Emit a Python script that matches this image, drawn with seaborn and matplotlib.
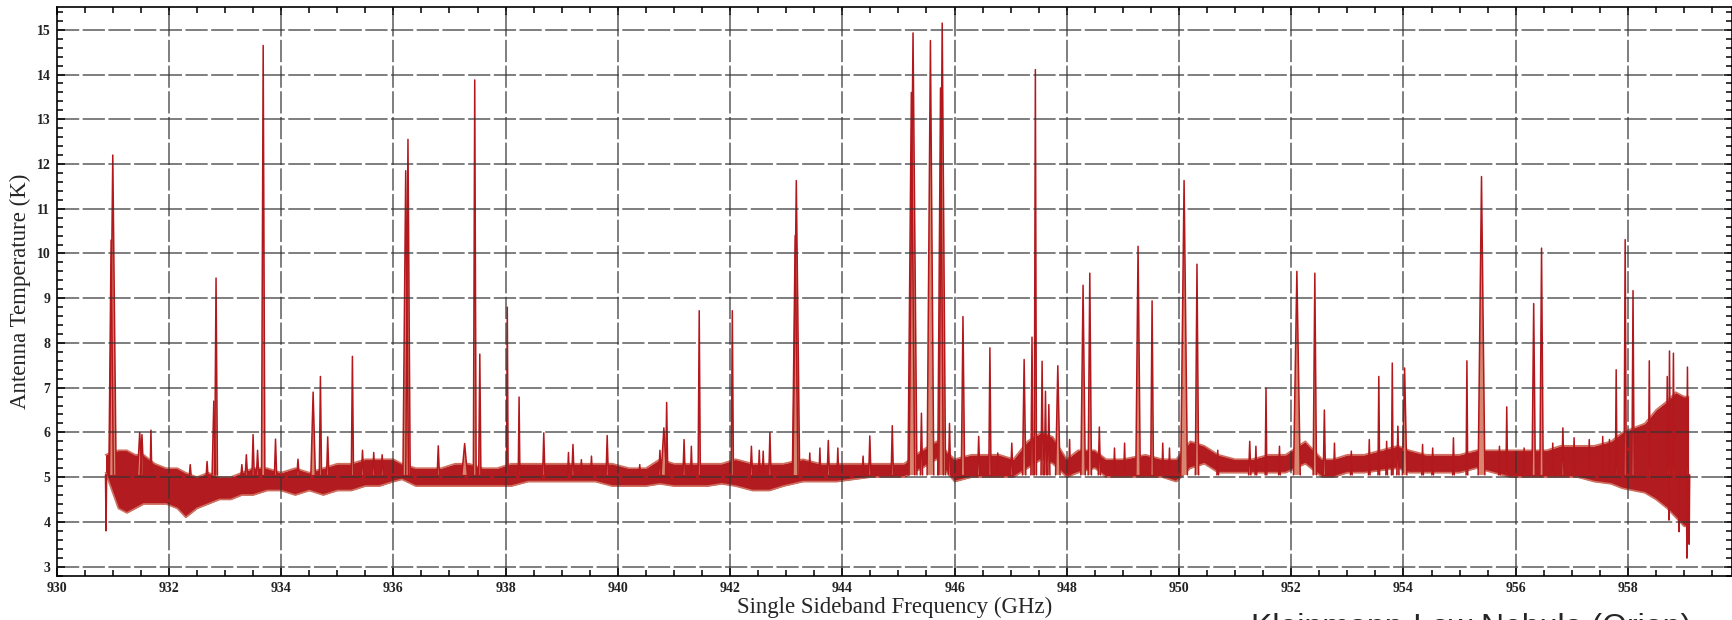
import numpy as np
import pandas as pd
import matplotlib
matplotlib.use("Agg")
import matplotlib.pyplot as plt
from matplotlib.ticker import MultipleLocator
import seaborn as sns

# Baseline noise band of the spectrum (lower / upper envelope, K)
band_freq = [930.87, 931.10, 931.25, 931.40, 931.55, 931.75, 931.95, 932.15, 932.30, 932.50,
             932.70, 932.90, 933.10, 933.30, 933.50, 933.75, 934.00, 934.25, 934.50, 934.75,
             935.00, 935.25, 935.50, 935.75, 936.00, 936.15, 936.40, 936.60, 936.85, 937.10,
             937.35, 937.60, 937.85, 938.10, 938.40, 938.70, 939.00, 939.30, 939.60, 939.90,
             940.20, 940.50, 940.75, 941.00, 941.30, 941.60, 941.85, 942.10, 942.40, 942.70,
             942.95, 943.30, 943.60, 943.90, 944.20, 944.50, 944.80, 945.10, 945.42, 945.68,
             946.00, 946.30, 946.55, 946.80, 947.05, 947.30, 947.55, 947.75, 948.00, 948.20,
             948.50, 948.70, 949.00, 949.40, 949.70, 949.95, 950.20, 950.45, 950.70, 951.00,
             951.30, 951.60, 951.90, 952.25, 952.55, 952.75, 953.00, 953.30, 953.60, 953.90,
             954.10, 954.40, 954.70, 955.00, 955.30, 955.60, 955.90, 956.20, 956.55, 956.80,
             957.10, 957.40, 957.70, 957.90, 958.10, 958.30, 958.50, 958.70, 958.85, 959.00,
             959.08]
band_low = [5.10, 4.30, 4.20, 4.30, 4.40, 4.40, 4.40, 4.30, 4.10, 4.30,
            4.40, 4.50, 4.50, 4.60, 4.60, 4.70, 4.70, 4.60, 4.70, 4.60,
            4.70, 4.70, 4.80, 4.80, 4.90, 4.95, 4.80, 4.80, 4.80, 4.80,
            4.80, 4.80, 4.80, 4.80, 4.90, 4.90, 4.90, 4.90, 4.90, 4.80,
            4.80, 4.80, 4.85, 4.80, 4.80, 4.80, 4.85, 4.80, 4.70, 4.70,
            4.80, 4.90, 4.90, 4.90, 4.95, 5.00, 5.00, 5.00, 5.20, 5.40,
            4.90, 5.00, 5.00, 5.00, 5.00, 5.20, 5.40, 5.30, 5.00, 5.10,
            5.20, 5.00, 5.00, 5.00, 5.00, 4.90, 5.20, 5.30, 5.10, 5.10,
            5.10, 5.10, 5.10, 5.30, 5.00, 5.00, 5.10, 5.10, 5.15, 5.20,
            5.10, 5.10, 5.10, 5.10, 5.20, 5.10, 5.00, 5.00, 5.00, 5.00,
            5.00, 4.90, 4.85, 4.75, 4.70, 4.65, 4.50, 4.30, 4.10, 3.90,
            3.90]
band_high = [5.50, 5.60, 5.60, 5.50, 5.50, 5.30, 5.20, 5.20, 5.10, 5.00,
             5.10, 5.00, 5.00, 5.10, 5.20, 5.20, 5.10, 5.20, 5.10, 5.20,
             5.30, 5.30, 5.40, 5.40, 5.40, 5.30, 5.20, 5.20, 5.20, 5.30,
             5.30, 5.20, 5.20, 5.30, 5.30, 5.30, 5.30, 5.30, 5.30, 5.30,
             5.20, 5.20, 5.40, 5.30, 5.30, 5.30, 5.30, 5.40, 5.30, 5.30,
             5.30, 5.40, 5.30, 5.30, 5.30, 5.30, 5.30, 5.30, 5.60, 5.80,
             5.40, 5.50, 5.50, 5.50, 5.40, 5.80, 6.00, 5.90, 5.40, 5.60,
             5.60, 5.40, 5.40, 5.50, 5.40, 5.40, 5.80, 5.70, 5.50, 5.40,
             5.40, 5.50, 5.50, 5.80, 5.40, 5.40, 5.50, 5.50, 5.60, 5.70,
             5.60, 5.50, 5.50, 5.50, 5.60, 5.60, 5.60, 5.60, 5.60, 5.70,
             5.70, 5.70, 5.80, 6.00, 6.10, 6.20, 6.50, 6.70, 6.90, 6.80,
             6.80]

# Emission lines (and a few dips): centre, peak, half width at foot
peak_freq = [930.88, 930.97, 931.00, 931.48, 931.52, 931.68, 932.38, 932.68, 932.80, 932.84,
             933.30, 933.38, 933.50, 933.58, 933.68, 933.90, 934.30, 934.57, 934.70, 934.83,
             935.27, 935.45, 935.65, 935.80, 936.22, 936.26, 936.80, 937.27, 937.45, 937.54,
             938.03, 938.24, 938.68, 939.12, 939.20, 939.35, 939.53, 939.81, 940.39, 940.75,
             940.82, 940.87, 941.18, 941.31, 941.45, 942.04, 942.38, 942.52, 942.59, 942.71,
             943.16, 943.18, 943.42, 943.60, 943.75, 943.92, 944.37, 944.49, 944.89, 945.23,
             945.26, 945.41, 945.57, 945.75, 945.78, 945.91, 946.15, 946.43, 946.63, 946.77,
             947.02, 947.24, 947.38, 947.44, 947.56, 947.62, 947.68, 947.84, 948.05, 948.29,
             948.41, 948.58, 948.85, 949.03, 949.27, 949.52, 949.71, 949.83, 950.09, 950.32,
             950.69, 951.26, 951.37, 951.55, 951.79, 952.10, 952.42, 952.59, 952.77, 953.07,
             953.39, 953.56, 953.70, 953.80, 953.90, 954.02, 954.34, 954.52, 954.89, 955.13,
             955.39, 955.71, 955.84, 956.15, 956.32, 956.46, 956.66, 956.84, 957.04, 957.31,
             957.55, 957.67, 957.79, 957.95, 958.09, 958.38, 958.70, 958.74, 958.81, 959.06,
             958.73, 958.91, 959.05, 959.09]
peak_temp = [3.80, 10.30, 12.20, 6.00, 5.95, 6.05, 5.28, 5.35, 6.70, 9.45,
             5.28, 5.50, 5.95, 5.60, 14.65, 5.85, 5.40, 6.90, 7.25, 5.90,
             7.70, 5.60, 5.55, 5.50, 11.85, 12.55, 5.70, 5.75, 13.88, 7.75,
             8.80, 6.79, 5.99, 5.55, 5.73, 5.39, 5.47, 5.93, 5.28, 5.60,
             6.10, 6.67, 5.84, 5.69, 8.72, 8.72, 5.69, 5.60, 5.58, 6.00,
             10.40, 11.63, 5.54, 5.65, 5.82, 5.65, 5.47, 5.92, 6.15, 13.60,
             14.93, 6.43, 14.76, 13.70, 15.15, 6.20, 8.59, 5.91, 7.89, 5.54,
             5.76, 7.63, 8.13, 14.11, 7.59, 6.92, 6.62, 7.49, 5.84, 9.29,
             9.56, 6.12, 5.65, 5.76, 10.16, 8.94, 5.76, 5.65, 11.63, 9.76,
             5.60, 5.80, 5.69, 6.99, 5.69, 9.60, 9.56, 6.50, 5.76, 5.58,
             5.84, 7.25, 5.80, 7.55, 6.14, 7.44, 5.73, 5.65, 5.88, 7.60,
             11.72, 5.69, 6.57, 5.65, 8.88, 10.12, 5.76, 6.10, 5.88, 5.84,
             5.91, 5.84, 7.40, 10.31, 9.17, 7.60, 7.25, 7.82, 7.77, 7.46,
             4.04, 3.78, 3.19, 3.50]
peak_halfwidth = [0.010, 0.040, 0.060, 0.040, 0.030, 0.015, 0.015, 0.015, 0.030, 0.025,
                  0.015, 0.020, 0.020, 0.020, 0.030, 0.020, 0.020, 0.040, 0.020, 0.020,
                  0.020, 0.020, 0.020, 0.020, 0.050, 0.040, 0.020, 0.050, 0.025, 0.020,
                  0.015, 0.015, 0.020, 0.015, 0.020, 0.015, 0.015, 0.020, 0.015, 0.020,
                  0.050, 0.020, 0.020, 0.015, 0.020, 0.020, 0.020, 0.015, 0.015, 0.020,
                  0.050, 0.060, 0.015, 0.015, 0.020, 0.015, 0.015, 0.020, 0.020, 0.060,
                  0.070, 0.020, 0.060, 0.050, 0.060, 0.020, 0.030, 0.020, 0.020, 0.015,
                  0.020, 0.030, 0.020, 0.020, 0.020, 0.020, 0.020, 0.040, 0.015, 0.040,
                  0.030, 0.020, 0.015, 0.015, 0.040, 0.025, 0.015, 0.015, 0.060, 0.030,
                  0.015, 0.020, 0.015, 0.015, 0.015, 0.060, 0.030, 0.020, 0.015, 0.015,
                  0.015, 0.015, 0.015, 0.015, 0.020, 0.040, 0.015, 0.015, 0.015, 0.015,
                  0.060, 0.015, 0.015, 0.015, 0.030, 0.030, 0.015, 0.020, 0.015, 0.015,
                  0.015, 0.015, 0.015, 0.020, 0.020, 0.015, 0.015, 0.015, 0.015, 0.015,
                  0.010, 0.010, 0.010, 0.010]

baseline = 5.05

rows = []
for i, (f, t, w) in enumerate(zip(peak_freq, peak_temp, peak_halfwidth)):
    rows.append((i, f - w, baseline))
    rows.append((i, f, t))
    rows.append((i, f + w, baseline))
df = pd.DataFrame(rows, columns=["line", "freq", "temp"])

sns.set_style("ticks")
plt.rcParams["font.family"] = ["Liberation Serif", "DejaVu Serif"]
plt.rcParams["lines.scale_dashes"] = False

fig = plt.figure(figsize=(17.33, 6.2), dpi=100)
ax = fig.add_axes([0.0327, 0.071, 0.9666, 0.917])

# noise band
ax.fill_between(band_freq, band_low, band_high, color="#b21c20", lw=0, zorder=1)
ax.plot(band_freq, band_low, color="#d07060", lw=1.2, zorder=1.2)
ax.plot(band_freq, band_high, color="#d07060", lw=1.2, zorder=1.2)

# lines: light filled body + dark outline
for _, g in df.groupby("line"):
    ax.fill(g["freq"], g["temp"], color="#d98670", lw=0, zorder=1.4)
sns.lineplot(data=df, x="freq", y="temp", units="line", estimator=None,
             color="#b3181d", lw=1.1, ax=ax, zorder=1.6)

ax.set_xlim(930, 959.85)
ax.set_ylim(2.79, 15.5)
ax.xaxis.set_major_locator(MultipleLocator(2))
ax.xaxis.set_minor_locator(MultipleLocator(0.5))
ax.yaxis.set_major_locator(MultipleLocator(1))
ax.yaxis.set_minor_locator(MultipleLocator(0.2))

ax.set_axisbelow(False)
ax.grid(True, which="major", color="#333333", lw=1.1, alpha=0.8,
        linestyle=(0, (16, 2.5)))

ax.tick_params(which="both", direction="in", top=True, right=True,
               color="black", width=1.1)
ax.tick_params(which="major", length=6, labelsize=10, pad=4.5)
ax.tick_params(which="minor", length=4.5)
for lab in ax.get_xticklabels() + ax.get_yticklabels():
    lab.set_fontweight("bold")
    lab.set_color("#222222")

for sp in ax.spines.values():
    sp.set_linewidth(1.2)
    sp.set_color("black")

ax.set_xlabel("Single Sideband Frequency (GHz)", fontsize=16.5, labelpad=1)
ax.set_ylabel("Antenna Temperature (K)", fontsize=16.5, labelpad=4)

# caption sits at the lower edge, partly outside the canvas as in the source image
fig.text(0.722, -0.026, "Kleinmann-Low Nebula (Orion)", fontsize=23,
         family=["Liberation Sans", "DejaVu Sans"], ha="left", va="baseline")

fig.savefig("out.png", dpi=100)
